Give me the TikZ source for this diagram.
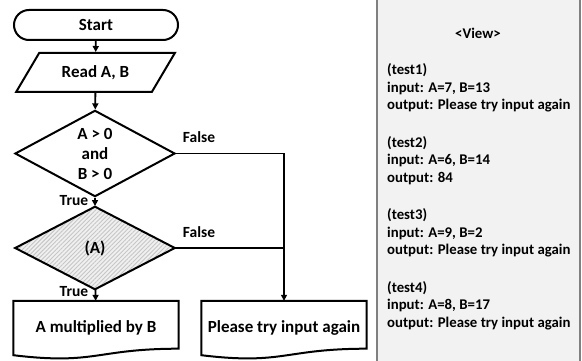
\documentclass[tikz,border=0pt]{standalone}
\usepackage{fontspec}
\setmainfont{Carlito}
\usetikzlibrary{shapes.geometric,arrows.meta,patterns.meta}

\begin{document}
\begin{tikzpicture}[x=1pt, y=-1pt,
  every node/.style = {
     align=center,
     font=\bfseries\fontsize{17}{20}\selectfont},
  shape line/.style = {line width=2pt},
  terminal/.style = {draw, shape line, rounded corners=15pt,
     minimum width=164pt, minimum height=30pt},
  io/.style = {draw, shape line, trapezium, trapezium left angle=54,
     trapezium right angle=126, trapezium stretches=true,
     minimum width=159pt, minimum height=39pt},
  decision/.style = {draw, shape line, diamond, inner sep=0pt,
     minimum width=160pt, minimum height=83pt},
  hatched/.style = {preaction={fill=gray!12},
     pattern={Lines[angle=45,distance=3pt,line width=0.9pt]},
     pattern color=gray!45},
  docbox/.style = {minimum width=165pt, minimum height=54pt},
  flow/.style = {line width=1.8pt, -{Triangle[length=6pt,width=6pt]}},
  branch line/.style = {line width=1.8pt},
  lbl/.style = {font=\bfseries\fontsize{15.5}{18}\selectfont},
  panel/.style = {font=\bfseries\fontsize{14.8}{17.5}\selectfont,
     align=left, anchor=west, inner sep=0pt}]
  \useasboundingbox (0,0) rectangle (582,361);

  % view panel
  \fill[gray!10] (377,-5) rectangle (580,366);
  \draw[gray, line width=2pt] (377,-5) -- (377,366) (580,-5) -- (580,366);
  \node[panel, anchor=center] (view) at (478,33) {<View>};
  \node[panel] (test1) at (387,88) {(test1)\\input: A=7, B=13\\output: Please try input again};
  \node[panel] (test2) at (387,160.5) {(test2)\\input: A=6, B=14\\output: 84};
  \node[panel] (test3) at (387,233) {(test3)\\input: A=9, B=2\\output: Please try input again};
  \node[panel] (test4) at (387,305.5) {(test4)\\input: A=8, B=17\\output: Please try input again};

  % flowchart
  \node[terminal] (start) at (96,25) {Start};
  \node[io] (read) at (95.5,72.5) {Read A, B};
  \node[decision] (cond) at (95,153.5) {A > 0\\and\\B > 0};
  \node[decision, hatched] (check) at (95,248) {(A)};
  \node[docbox] (prod) at (96,328) {A multiplied by B};
  \node[docbox] (retry) at (284,328) {Please try input again};
  \draw[shape line] (prod.north west) -- (prod.north east) -- ([yshift=6.5pt]prod.south east)
    .. controls ([yshift=6.5pt]prod.south) and ([yshift=-10pt]prod.south) .. (prod.south west) -- cycle;
  \draw[shape line] (retry.north west) -- (retry.north east) -- ([yshift=6.5pt]retry.south east)
    .. controls ([yshift=6.5pt]retry.south) and ([yshift=-10pt]retry.south) .. (retry.south west) -- cycle;

  \draw[flow] (start) -- (read);
  \draw[flow] (read) -- (cond);
  \draw[flow] (cond) -- (check);
  \draw[flow] (check) -- (prod);
  \draw[flow] (cond.east) -| (retry.north);
  \draw[branch line] (check.east) -- (check.east -| retry.north);

  \node[lbl] (false1) at (199,137) {False};
  \node[lbl] (false2) at (199,232) {False};
  \node[lbl] (true1) at (74,201) {True};
  \node[lbl] (true2) at (74,292) {True};
\end{tikzpicture}
\end{document}
